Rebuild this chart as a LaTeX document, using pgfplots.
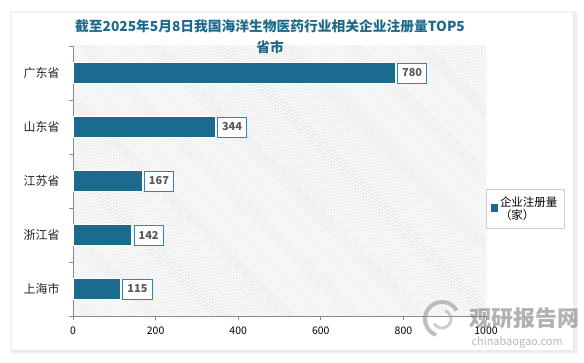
\documentclass[border=0pt]{standalone}
\usepackage{pgfplots}
\pgfplotsset{compat=1.18}
\usepackage{fontspec}
\setmainfont{Noto Sans CJK SC}
\usetikzlibrary{patterns}
\definecolor{barblue}{HTML}{1B6B8E}
\definecolor{titleblue}{HTML}{1F6A8C}
\definecolor{axisgray}{HTML}{8C8C8C}
\definecolor{boxblue}{HTML}{2E86B5}
\begin{document}
\begin{tikzpicture}[x=1bp,y=1bp]
\useasboundingbox (0,0) rectangle (584,362);
\fill[white] (0,0) rectangle (584,362);
\fill[black!5] (10,8) rectangle (578,351);
\fill[black!8] (13,10) rectangle (575,349);
\fill[white] (12,12) rectangle (573,349);
\begin{axis}[
  at={(73bp,46bp)}, anchor=south west, scale only axis,
  width=413bp, height=270bp,
  xbar, bar width=0.4,
  xmin=0, xmax=1000, ymin=-0.5, ymax=4.5,
  /pgf/number format/assume math mode=true,
  /pgf/number format/1000 sep={},
  axis background/.style={pattern=north west lines, pattern color=black!14},
  axis x line*=bottom, axis y line*=left,
  axis line style={axisgray, line width=0.8bp},
  tick align=outside, major tick length=4bp,
  tick style={axisgray, line width=0.8bp},
  xtick={0,200,...,1000},
  xticklabel style={font=\fontsize{10.5}{11}\selectfont, text=black, yshift=-3bp},
  ytick={-0.5,0.5,...,4.5}, yticklabels={},
  extra y ticks={0,1,2,3,4},
  extra y tick labels={上海市,浙江省,江苏省,山东省,广东省},
  extra y tick style={tick style={draw=none}, yticklabel style={font=\fontsize{12}{12}\selectfont, text=black!85, xshift=-6bp}},
  nodes near coords, point meta=x,
  nodes near coords style={anchor=west, xshift=2bp, draw=boxblue, line width=0.9bp, fill=white, text=black!65, font=\bfseries\fontsize{11}{11}\selectfont, inner xsep=4.5bp, minimum height=20bp},
  legend style={at={(1.0,0.47)}, anchor=north west, draw=black!20, font=\fontsize{11.5}{14}\selectfont, inner sep=5bp, cells={align=left}},
  legend image code/.code={\fill[barblue] (0bp,-3bp) rectangle (6bp,4bp);},
  clip=false,
]
\addplot[fill=barblue, draw=white, line width=0.8bp] coordinates {(115,0) (142,1) (167,2) (344,3) (780,4)};
\addlegendentry{企业注册量\\（家）}
\end{axis}
\node[font=\bfseries\fontsize{13.8}{15}\selectfont, text=titleblue] at (270,336) {截至2025年5月8日我国海洋生物医药行业相关企业注册量TOP5};
\node[font=\bfseries\fontsize{13.8}{15}\selectfont, text=titleblue] at (270,315) {省市};
% watermark
\begin{scope}[opacity=0.55]
\draw[black!45, line width=4bp] (442,43) ++(30:17) arc (30:250:17);
\draw[black!35, line width=3bp] (442,43) ++(210:9) arc (210:430:9);
\node[font=\bfseries\fontsize{22}{22}\selectfont, text=black!55, anchor=west] at (466,44) {观研报告网};
\node[font=\fontsize{11}{11}\selectfont, text=black!50, anchor=west] at (468,19) {chinabaogao.com};
\end{scope}
\end{tikzpicture}
\end{document}
